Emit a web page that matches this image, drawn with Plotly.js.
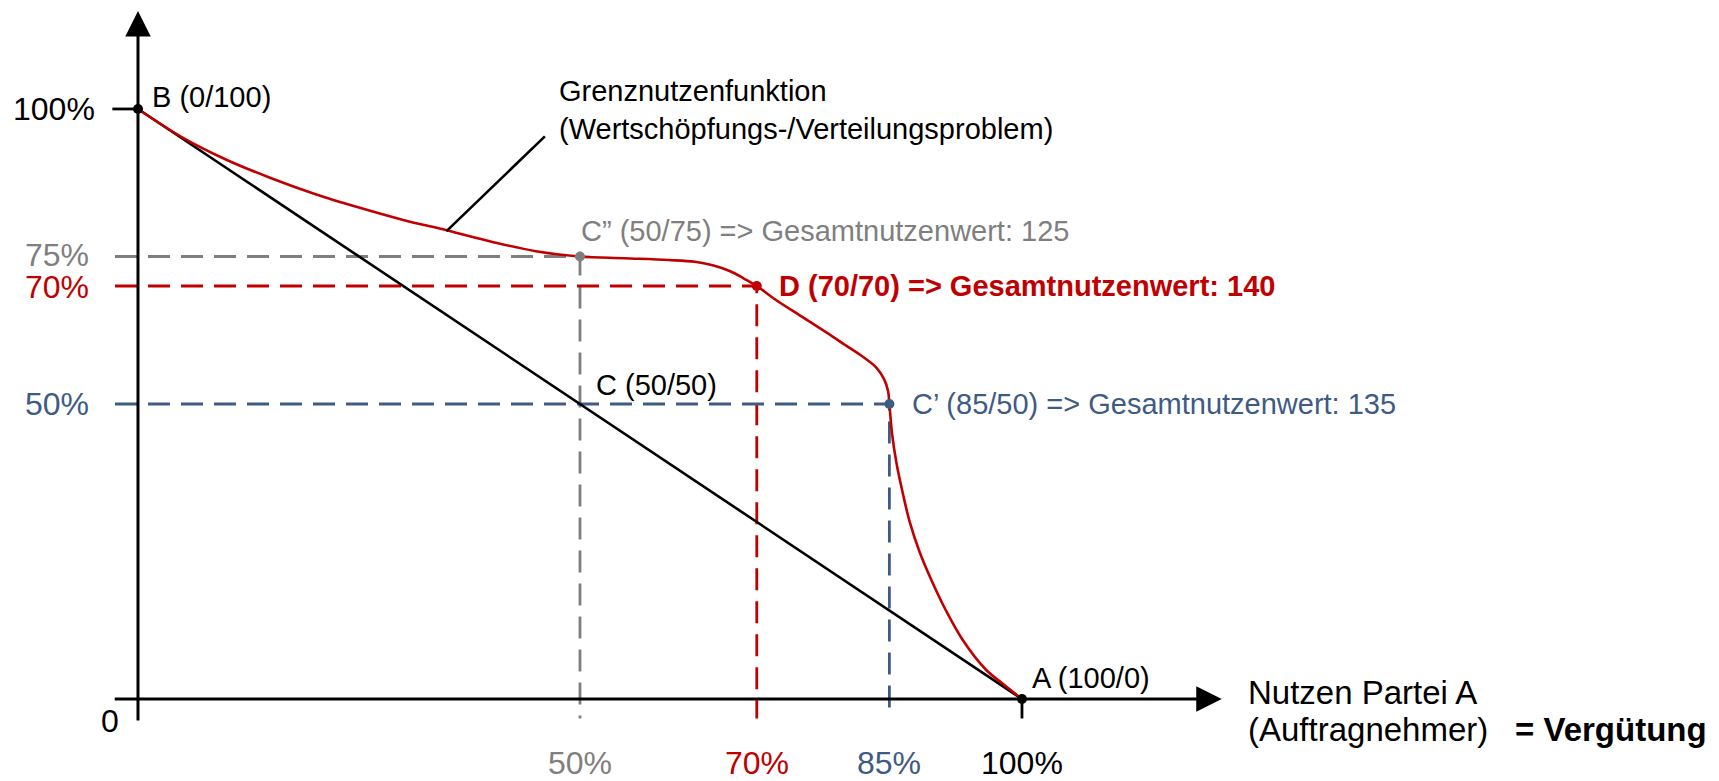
<!DOCTYPE html>
<html><head><meta charset="utf-8">
<script src="https://cdn.plot.ly/plotly-3.0.1.min.js"></script>
<style>html,body{margin:0;padding:0;background:#fff;} #chart{width:1719px;height:781px;}</style>
</head><body><div id="chart"></div>
<script>
// ---------- data ----------
const curveX = [0, 5, 10, 15, 20, 25, 30, 35, 40, 45, 50, 55, 60, 63, 65, 67, 68.5, 70, 72, 75, 78, 80, 82, 83.5, 84.4, 84.85, 85, 85.3, 85.8, 86.5, 87.3, 88.4, 89.8, 91.4, 93.3, 95.9, 97.9, 100];
const curveY = [100, 95.2, 91.4, 88.3, 85.6, 83.3, 81.2, 79.4, 77.5, 75.9, 75.0, 74.7, 74.4, 74.1, 73.5, 72.5, 71.3, 70, 67.8, 64.9, 62.0, 60.0, 58.0, 56.2, 54.2, 52.2, 50, 45, 40, 35, 30, 25, 20, 15, 10, 5, 2.5, 0];
const diagX = [0, 100];
const diagY = [100, 0];

const pointX = [0, 50, 70, 85, 100, 50];
const pointY = [100, 75, 70, 50, 0, 50];
const pointLabels = [
  'B (0/100)',
  'C\u201D (50/75) =&gt; Gesamtnutzenwert: 125',
  '<b>D (70/70) =&gt; Gesamtnutzenwert: 140</b>',
  'C\u2019 (85/50) =&gt; Gesamtnutzenwert: 135',
  'A (100/0)',
  'C (50/50)'
];
const guidePoints = [1, 2, 3]; // C'', D, C' get dashed guide lines

const yTickVals = [100, 75, 70, 50];
const yTickText = ['100%', '75%', '70%', '50%'];
const xTickVals = [50, 70, 85, 100];
const xTickText = ['50%', '70%', '85%', '100%'];
const originLabel = '0';

const curveLabel = 'Grenznutzenfunktion<br>(Wertschöpfungs-/Verteilungsproblem)';
const xTitle1 = 'Nutzen Partei A';
const xTitle2 = '(Auftragnehmer)';
const xTitle3 = '<b>= Vergütung</b>';

// ---------- styles / layout ----------
const BLACK = '#000000', GRAY = '#7F7F7F', RED = '#C00000', BLUE = '#3E5B84';
const pointColors = [BLACK, GRAY, RED, BLUE, BLACK, BLACK];
const pointShift = [[12, 12], [-1, 25], [20, 0], [21, 0], [8, 21], [14, 19]];
const pointMarker = [true, true, true, true, true, false];
const yTickColors = [BLACK, GRAY, RED, BLUE];
const yTickShift = [[-41, 0], [-47, 1], [-47, -1], [-47, 0]];
const xTickColors = [GRAY, RED, BLUE, BLACK];
const FONT = '"Liberation Sans", Arial, sans-serif';

const xLow = -2.6, yLow = -3.3;         // how far axes / guides reach past the origin
const xTip = 122.6, yTip = 116.6;       // arrow tips
const leaderFrom = [46.2, 95.6], leaderTo = [34.9, 79.3];

const traces = [];
// dashed guides
guidePoints.forEach(i => {
  traces.push({
    x: [xLow, pointX[i], pointX[i]], y: [pointY[i], pointY[i], yLow],
    mode: 'lines', line: {color: pointColors[i], width: 2.8, dash: '22px,11px'},
    hoverinfo: 'skip', showlegend: false
  });
});
// small solid ticks at 100 on both axes
traces.push({x: [xLow - 0.3, 0], y: [100, 100], mode: 'lines', line: {color: BLACK, width: 2.8}, hoverinfo: 'skip', showlegend: false});
traces.push({x: [100, 100], y: [0, yLow], mode: 'lines', line: {color: BLACK, width: 2.8}, hoverinfo: 'skip', showlegend: false});
// straight line A-B
traces.push({x: diagX, y: diagY, mode: 'lines', line: {color: BLACK, width: 2.6}, hoverinfo: 'skip', showlegend: false});
// curve
traces.push({x: curveX, y: curveY, mode: 'lines', line: {color: RED, width: 2.6, shape: 'spline', smoothing: 1}, hoverinfo: 'skip', showlegend: false});
// points
const mIdx = pointX.map((_, i) => i).filter(i => pointMarker[i]);
traces.push({
  x: mIdx.map(i => pointX[i]), y: mIdx.map(i => pointY[i]), mode: 'markers',
  marker: {size: 10, color: mIdx.map(i => pointColors[i])},
  hoverinfo: 'skip', showlegend: false, cliponaxis: false
});

const annotations = [];
// axes with arrowheads
annotations.push({x: xTip, y: 0, ax: xLow - 0.2, ay: 0, xref: 'x', yref: 'y', axref: 'x', ayref: 'y',
  text: '', showarrow: true, arrowhead: 2, arrowsize: 1.7, arrowwidth: 3, arrowcolor: BLACK, standoff: 0, startstandoff: 0});
annotations.push({x: 0, y: yTip, ax: 0, ay: yLow - 0.6, xref: 'x', yref: 'y', axref: 'x', ayref: 'y',
  text: '', showarrow: true, arrowhead: 2, arrowsize: 1.7, arrowwidth: 3, arrowcolor: BLACK, standoff: 0, startstandoff: 0});
// leader line
annotations.push({x: leaderTo[0], y: leaderTo[1], ax: leaderFrom[0], ay: leaderFrom[1], xref: 'x', yref: 'y', axref: 'x', ayref: 'y',
  text: '', showarrow: true, arrowhead: 0, arrowwidth: 2.6, arrowcolor: BLACK, standoff: 0, startstandoff: 0});
// curve label
annotations.push({x: leaderFrom[0], y: leaderFrom[1], xref: 'x', yref: 'y', xanchor: 'left', yanchor: 'bottom',
  xshift: 11, yshift: -12, align: 'left', showarrow: false, text: curveLabel, font: {family: FONT, size: 29, color: BLACK}});
// point labels
pointLabels.forEach((t, i) => {
  annotations.push({x: pointX[i], y: pointY[i], xref: 'x', yref: 'y', xanchor: 'left', yanchor: 'middle',
    xshift: pointShift[i][0], yshift: pointShift[i][1], showarrow: false, text: t,
    font: {family: FONT, size: 29, color: pointColors[i]}});
});
// y tick labels
yTickVals.forEach((v, i) => {
  annotations.push({x: 0, y: v, xref: 'x', yref: 'y', xanchor: 'right', yanchor: 'middle',
    xshift: yTickShift[i][0], yshift: yTickShift[i][1],
    showarrow: false, text: yTickText[i], font: {family: FONT, size: 32, color: yTickColors[i]}});
});
// x tick labels
xTickVals.forEach((v, i) => {
  annotations.push({x: v, y: 0, xref: 'x', yref: 'y', xanchor: 'center', yanchor: 'middle', yshift: -64,
    showarrow: false, text: xTickText[i], font: {family: FONT, size: 32, color: xTickColors[i]}});
});
annotations.push({x: 0, y: 0, xref: 'x', yref: 'y', xanchor: 'center', yanchor: 'middle', xshift: -28, yshift: -22,
  showarrow: false, text: originLabel, font: {family: FONT, size: 32, color: BLACK}});
// axis title
annotations.push({x: xTip, y: 0, xref: 'x', yref: 'y', xanchor: 'left', yanchor: 'middle', xshift: 24, yshift: 6,
  showarrow: false, text: xTitle1, font: {family: FONT, size: 33, color: BLACK}});
annotations.push({x: xTip, y: 0, xref: 'x', yref: 'y', xanchor: 'left', yanchor: 'middle', xshift: 24, yshift: -31,
  showarrow: false, text: xTitle2, font: {family: FONT, size: 33, color: BLACK}});
annotations.push({x: xTip, y: 0, xref: 'x', yref: 'y', xanchor: 'left', yanchor: 'middle', xshift: 291, yshift: -31,
  showarrow: false, text: xTitle3, font: {family: FONT, size: 33, color: BLACK}});

const layout = {
  width: 1719, height: 781,
  margin: {l: 0, r: 0, t: 0, b: 0, pad: 0},
  paper_bgcolor: '#ffffff', plot_bgcolor: '#ffffff',
  xaxis: {range: [-15.61, 178.85], visible: false, fixedrange: true},
  yaxis: {range: [-13.9, 118.47], visible: false, fixedrange: true},
  showlegend: false,
  annotations: annotations
};

Plotly.newPlot('chart', traces, layout, {displayModeBar: false, staticPlot: true});
</script>
</body></html>
